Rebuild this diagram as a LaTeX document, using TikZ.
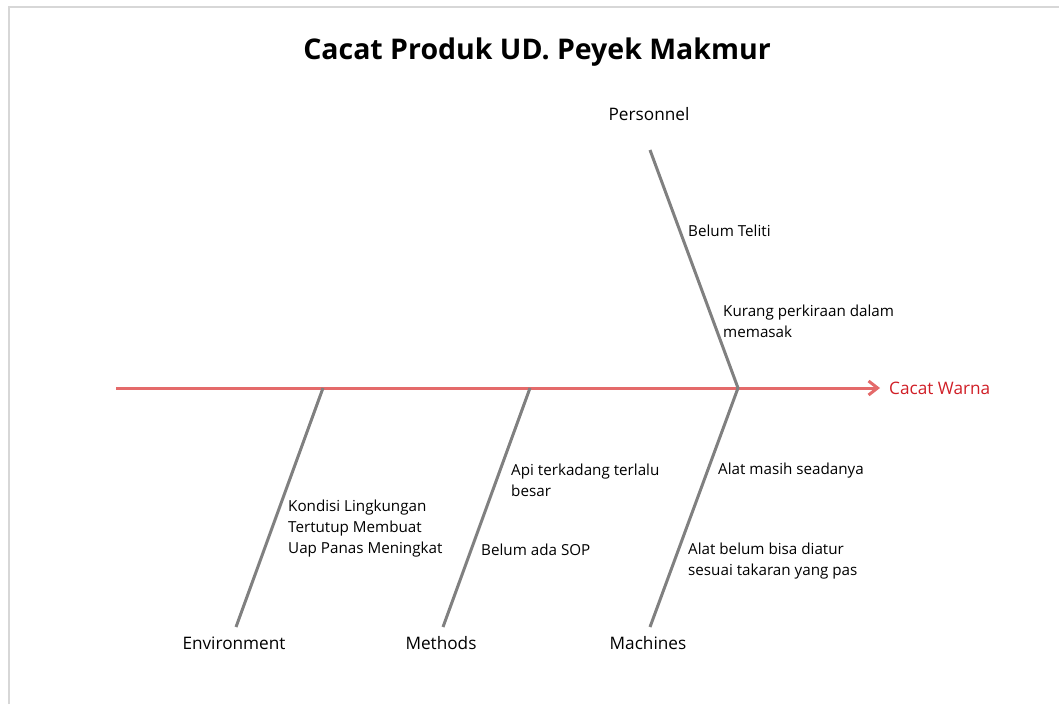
\documentclass[tikz,border=0pt]{standalone}
\usepackage{fontspec}
\setmainfont{Open Sans}
\usetikzlibrary{arrows.meta}
\definecolor{spinered}{RGB}{228,106,106}
\definecolor{warnared}{RGB}{208,30,38}
\definecolor{bonegray}{RGB}{128,128,128}
\definecolor{framegray}{RGB}{215,215,215}

\begin{document}
\begin{tikzpicture}[x=1pt,y=-1pt,
  bone/.style={bonegray,line width=3pt},
  cause/.style={anchor=west,align=left,inner sep=0pt,font=\fontsize{15.2}{21}\selectfont},
  cat/.style={inner sep=0pt,font=\fontsize{17.2}{20}\selectfont}]
  \useasboundingbox (0,0) rectangle (1059,704);
  % frame, only top and left edges show
  \draw[framegray,line width=2pt] (9,704) -- (9,7) -- (1059,7);
  \node[font=\bfseries\fontsize{28.5}{32}\selectfont] (title) at (537,52) {Cacat Produk UD. Peyek Makmur};

  % spine
  \coordinate (tail) at (116,388);
  \coordinate (head) at (880,388);
  \draw[spinered,line width=3pt,-{Straight Barb[length=9pt,width=14pt,line width=3pt]}] (tail) -- (head);
  \node[anchor=west,inner sep=0pt,text=warnared,font=\fontsize{17.2}{20}\selectfont] (effect) at (889,388) {Cacat Warna};

  % bones
  \coordinate (pers) at (650,150);
  \coordinate (mach) at (650,627);
  \coordinate (meth) at (443,627);
  \coordinate (envi) at (236,627);
  \coordinate (j1) at (738,388);
  \coordinate (j2) at (530,388);
  \coordinate (j3) at (323,388);
  \draw[bone] (pers) -- (j1) -- (mach);
  \draw[bone] (j2) -- (meth);
  \draw[bone] (j3) -- (envi);

  \node[cat] (lpers) at (649,114) {Personnel};
  \node[cat] (lmach) at (648,643) {Machines};
  \node[cat] (lmeth) at (441,643) {Methods};
  \node[cat] (lenvi) at (234,643) {Environment};

  % causes
  \node[cause] (c1) at (688,231) {Belum Teliti};
  \node[cause] (c2) at (723,321.5) {Kurang perkiraan dalam\\memasak};
  \node[cause] (c3) at (718,471) {Alat masih seadanya};
  \node[cause] (c4) at (688,561) {Alat belum bisa diatur\\sesuai takaran yang pas};
  \node[cause] (c5) at (511,480.5) {Api terkadang terlalu\\besar};
  \node[cause] (c6) at (481,550) {Belum ada SOP};
  \node[cause] (c7) at (288,529) {Kondisi Lingkungan\\Tertutup Membuat\\Uap Panas Meningkat};
\end{tikzpicture}
\end{document}
